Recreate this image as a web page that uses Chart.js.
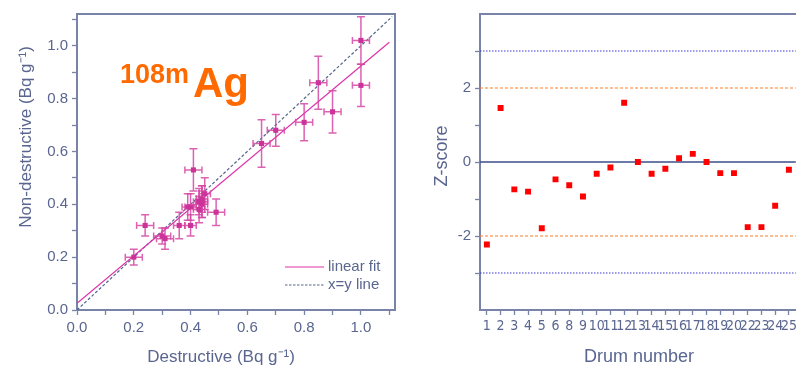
<!DOCTYPE html>
<html>
<head>
<meta charset="utf-8">
<script src="https://cdn.jsdelivr.net/npm/chart.js@4"></script>
<style>
html, body { margin: 0; padding: 0; background: #fff; overflow: hidden; width: 796px; height: 366px; }
#activity { position: absolute; left: 0; top: 0; }
#zscore { position: absolute; left: 400px; top: 0; }
</style>
</head>
<body>
<canvas id="activity" width="400" height="366"></canvas>
<canvas id="zscore" width="400" height="366"></canvas>
<script>
// 108mAg: destructive vs non-destructive activity (Bq/g)
const destructive    = [0.20, 0.24, 0.30, 0.31, 0.36, 0.39, 0.40, 0.40, 0.41, 0.43, 0.43, 0.44, 0.44, 0.44, 0.45, 0.49, 0.65, 0.70, 0.80, 0.85, 0.90, 1.00, 1.00];
const nonDestructive = [0.20, 0.32, 0.28, 0.27, 0.32, 0.39, 0.39, 0.32, 0.53, 0.41, 0.38, 0.42, 0.40, 0.41, 0.44, 0.37, 0.63, 0.68, 0.71, 0.86, 0.75, 1.02, 0.85];
const destErr        = [0.03, 0.03, 0.03, 0.03, 0.02, 0.02, 0.02, 0.02, 0.03, 0.02, 0.02, 0.02, 0.02, 0.02, 0.02, 0.03, 0.03, 0.03, 0.03, 0.03, 0.03, 0.03, 0.03];
const nonDestErr     = [0.03, 0.04, 0.03, 0.04, 0.05, 0.05, 0.05, 0.04, 0.08, 0.05, 0.05, 0.05, 0.05, 0.06, 0.06, 0.05, 0.09, 0.06, 0.07, 0.10, 0.08, 0.09, 0.08];
const fitIntercept = 0.025;
const fitSlope = 0.898;
const fitRange = [0, 1.1];
const identityRange = [0, 1.11];
const activityTicks = [0, 0.1, 0.2, 0.3, 0.4, 0.5, 0.6, 0.7, 0.8, 0.9, 1.0, 1.1];

// Z-scores per drum
const drums   = ['1', '2', '3', '4', '5', '6', '8', '9', '10', '11', '12', '13', '14', '15', '16', '17', '18', '19', '20', '22', '23', '24', '25'];
const zScores = [-2.23, 1.46, -0.74, -0.80, -1.79, -0.47, -0.63, -0.93, -0.32, -0.15, 1.60, 0.00, -0.32, -0.18, 0.10, 0.22, 0.00, -0.30, -0.30, -1.76, -1.76, -1.18, -0.21];
const zTicks  = [-3, -2, -1, 0, 1, 2, 3];
const zLabelled = [-2, 0, 2];
const zWarning = 2;
const zAction = 3;

const axisColor = '#7983a8';
const textColor = '#5a6690';
const pink = '#cc3399';
const font = "'Liberation Sans', Arial, sans-serif";

// error bars under the points
const errorBars = {
    id: 'errorBars',
    beforeDatasetDraw(chart, args) {
        if (args.index !== 0) return;
        const { ctx, scales: { x, y } } = chart;
        ctx.save();
        ctx.strokeStyle = 'rgba(214, 70, 165, 0.85)';
        ctx.lineWidth = 1.5;
        destructive.forEach((d, i) => {
            const px = x.getPixelForValue(d), py = y.getPixelForValue(nonDestructive[i]);
            const x0 = x.getPixelForValue(d - destErr[i]), x1 = x.getPixelForValue(d + destErr[i]);
            const y0 = y.getPixelForValue(nonDestructive[i] - nonDestErr[i]), y1 = y.getPixelForValue(nonDestructive[i] + nonDestErr[i]);
            ctx.beginPath();
            ctx.moveTo(x0, py); ctx.lineTo(x1, py);
            ctx.moveTo(x0, py - 3.5); ctx.lineTo(x0, py + 3.5);
            ctx.moveTo(x1, py - 3.5); ctx.lineTo(x1, py + 3.5);
            ctx.moveTo(px, y0); ctx.lineTo(px, y1);
            ctx.moveTo(px - 4, y0); ctx.lineTo(px + 4, y0);
            ctx.moveTo(px - 4, y1); ctx.lineTo(px + 4, y1);
            ctx.stroke();
        });
        ctx.restore();
    }
};

// frame + titles + label for left chart
const activityDecor = {
    id: 'activityDecor',
    afterDraw(chart) {
        const { ctx, chartArea: a } = chart;
        ctx.save();
        ctx.strokeStyle = axisColor;
        ctx.lineWidth = 2;
        ctx.beginPath();
        ctx.moveTo(a.left, a.top); ctx.lineTo(a.right, a.top); ctx.lineTo(a.right, a.bottom);
        ctx.stroke();

        ctx.fillStyle = textColor;
        ctx.font = '17px ' + font;
        ctx.textAlign = 'center';
        ctx.textBaseline = 'alphabetic';
        ctx.fillText('Destructive (Bq g\u207B\u00B9)', 221, 362);
        ctx.save();
        ctx.translate(31, 137);
        ctx.rotate(-Math.PI / 2);
        ctx.fillText('Non-destructive (Bq g\u207B\u00B9)', 0, 0);
        ctx.restore();

        // isotope label
        ctx.fillStyle = '#ff6a00';
        ctx.textAlign = 'left';
        ctx.font = 'bold 27px ' + font;
        ctx.fillText('108m', 120, 83);
        ctx.font = 'bold 42px ' + font;
        ctx.fillText('Ag', 193, 97);

        // legend
        ctx.font = '15px ' + font;
        ctx.fillStyle = textColor;
        ctx.textBaseline = 'middle';
        ctx.strokeStyle = '#dd33aa';
        ctx.lineWidth = 1.2;
        ctx.beginPath(); ctx.moveTo(285, 267); ctx.lineTo(324, 267); ctx.stroke();
        ctx.fillText('linear fit', 328, 267);
        ctx.strokeStyle = '#55648c';
        ctx.setLineDash([2.5, 1.5]);
        ctx.beginPath(); ctx.moveTo(285, 285); ctx.lineTo(324, 285); ctx.stroke();
        ctx.setLineDash([]);
        ctx.fillText('x=y line', 328, 285);
        ctx.restore();
    }
};

const tickFrom = (list) => (scale) => { scale.ticks = list.map(v => ({ value: v })); };

new Chart(document.getElementById('activity'), {
    type: 'scatter',
    data: {
        datasets: [{
            label: 'data',
            data: destructive.map((d, i) => ({ x: d, y: nonDestructive[i] })),
            pointStyle: 'rect',
            pointRadius: 3.6,
            backgroundColor: pink,
            borderColor: pink,
            borderWidth: 0
        }, {
            label: 'linear fit',
            type: 'line',
            data: fitRange.map(v => ({ x: v, y: fitIntercept + fitSlope * v })),
            borderColor: '#dd33aa',
            borderWidth: 1.2,
            pointRadius: 0
        }, {
            label: 'x=y line',
            type: 'line',
            data: identityRange.map(v => ({ x: v, y: v })),
            borderColor: '#55648c',
            borderWidth: 1.2,
            borderDash: [3, 2],
            pointRadius: 0
        }]
    },
    options: {
        responsive: false,
        animation: false,
        layout: { padding: { top: 14, right: 5, left: 0, bottom: 0 } },
        plugins: { legend: { display: false }, tooltip: { enabled: false } },
        scales: {
            x: {
                type: 'linear', min: 0, max: 1.12,
                afterBuildTicks: tickFrom(activityTicks),
                afterFit: s => { s.height = 56; },
                border: { color: axisColor, width: 2 },
                grid: { drawOnChartArea: false, color: axisColor, tickLength: 5, tickWidth: 1.3 },
                ticks: {
                    color: textColor, font: { size: 15, family: font }, padding: 4, maxRotation: 0, autoSkip: false,
                    callback: v => (Math.round(v * 10) % 2 === 0 ? v.toFixed(1) : '')
                }
            },
            y: {
                type: 'linear', min: 0, max: 1.12,
                afterBuildTicks: tickFrom(activityTicks),
                afterFit: s => { s.width = 77; },
                border: { color: axisColor, width: 2 },
                grid: { drawOnChartArea: false, color: axisColor, tickLength: 5, tickWidth: 1.3 },
                ticks: {
                    color: textColor, font: { size: 15, family: font }, padding: 4, autoSkip: false,
                    callback: v => (Math.round(v * 10) % 2 === 0 ? v.toFixed(1) : '')
                }
            }
        }
    },
    plugins: [errorBars, activityDecor]
});

// reference lines and titles for the z-score chart
const zDecor = {
    id: 'zDecor',
    beforeDatasetsDraw(chart) {
        const { ctx, chartArea: a, scales: { y } } = chart;
        const hline = (v, color, dash, w) => {
            const py = y.getPixelForValue(v);
            ctx.strokeStyle = color;
            ctx.lineWidth = w;
            ctx.setLineDash(dash);
            ctx.beginPath(); ctx.moveTo(a.left, py); ctx.lineTo(a.right, py); ctx.stroke();
        };
        ctx.save();
        hline(zAction, '#3b3bd6', [1.5, 1.5], 1.2);
        hline(-zAction, '#3b3bd6', [1.5, 1.5], 1.2);
        hline(zWarning, '#ff7f27', [3, 2], 1.2);
        hline(-zWarning, '#ff7f27', [3, 2], 1.2);
        hline(0, '#3c4c88', [], 1.6);
        ctx.restore();
    },
    afterDraw(chart) {
        const { ctx, chartArea: a } = chart;
        ctx.save();
        ctx.strokeStyle = axisColor;
        ctx.lineWidth = 2;
        ctx.beginPath(); ctx.moveTo(a.left, a.top); ctx.lineTo(a.right + 5, a.top); ctx.stroke();
        ctx.fillStyle = textColor;
        ctx.font = '18px ' + font;
        ctx.textAlign = 'center';
        ctx.fillText('Drum number', 239, 362);
        ctx.translate(47, 156);
        ctx.rotate(-Math.PI / 2);
        ctx.fillText('Z-score', 0, 0);
        ctx.restore();
    }
};

new Chart(document.getElementById('zscore'), {
    type: 'scatter',
    data: {
        labels: drums,
        datasets: [{
            label: 'Z-score',
            data: zScores,
            pointStyle: 'rect',
            pointRadius: 4.2,
            backgroundColor: '#ff0000',
            borderColor: '#ff0000',
            borderWidth: 0
        }]
    },
    options: {
        responsive: false,
        animation: false,
        layout: { padding: { top: 14, right: 3, left: 0, bottom: 0 } },
        plugins: { legend: { display: false }, tooltip: { enabled: false } },
        scales: {
            x: {
                type: 'category', offset: true,
                afterFit: s => { s.height = 56; },
                border: { color: axisColor, width: 2 },
                grid: { drawOnChartArea: false, offset: false, color: axisColor, tickLength: 5, tickWidth: 1.3 },
                ticks: {
                    color: textColor, font: { size: 14, family: "'Liberation Sans Narrow', 'DejaVu Sans Condensed', sans-serif" },
                    padding: 3, maxRotation: 0, autoSkip: false
                }
            },
            y: {
                type: 'linear', min: -4, max: 4,
                afterBuildTicks: tickFrom(zTicks),
                afterFit: s => { s.width = 80; },
                border: { color: axisColor, width: 2 },
                grid: { drawOnChartArea: false, color: axisColor, tickLength: 5, tickWidth: 1.3 },
                ticks: {
                    color: textColor, font: { size: 15, family: font }, padding: 4, autoSkip: false,
                    callback: v => (zLabelled.includes(v) ? String(v) : '')
                }
            }
        }
    },
    plugins: [zDecor]
});
</script>
</body>
</html>
